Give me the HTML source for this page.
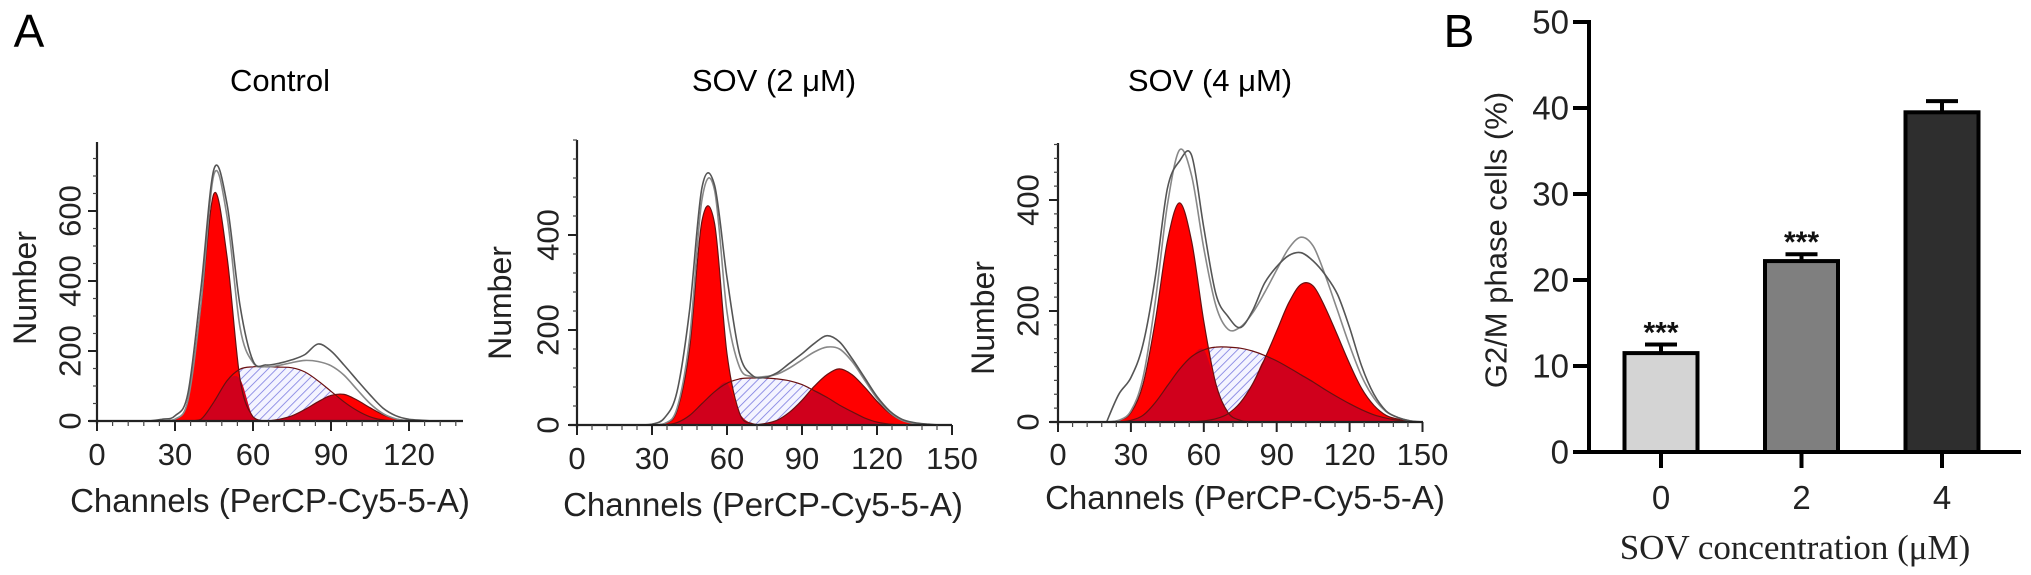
<!DOCTYPE html>
<html><head><meta charset="utf-8"><style>
html,body{margin:0;padding:0;background:#fff;}
svg{display:block;font-family:"Liberation Sans",sans-serif;}
</style></head><body>
<svg id="fig" width="2031" height="575" viewBox="0 0 2031 575">
<defs>
<pattern id="hatch" width="6" height="6" patternUnits="userSpaceOnUse" patternTransform="rotate(45)">
<rect width="6" height="6" fill="#f4f4ff"/>
<line x1="0" y1="0" x2="0" y2="6" stroke="#7a7ae0" stroke-width="1.6"/>
</pattern>
</defs>
<text x="29" y="47" font-size="46" text-anchor="middle">A</text>
<text x="1459" y="47" font-size="46" text-anchor="middle">B</text>
<text x="280" y="91" font-size="31" text-anchor="middle">Control</text>
<text x="774" y="91" font-size="31" text-anchor="middle">SOV (2 μM)</text>
<text x="1210" y="91" font-size="31" text-anchor="middle">SOV (4 μM)</text>
</svg>
<script>
// ---- Histogram data (channel grid, counts) ----
const p1Channels = [20,25,30,35,40,45,50,55,60,65,70,75,80,85,90,95,100,105,110,115,120,125,130,135,140];
const p1G1  = [0,0,5,60,330,650,470,120,12,0,0,0,0,0,0,0,0,0,0,0,0,0,0,0,0];
const p1S   = [0,0,0,0,5,55,115,148,155,155,154,152,140,115,85,55,30,12,3,0,0,0,0,0,0];
const p1G2  = [0,0,0,0,0,0,0,0,0,0,5,15,33,55,73,76,60,38,18,6,1,0,0,0,0];
const p1Raw = [0,5,15,80,380,720,620,330,172,160,165,175,190,220,200,160,117,75,37,15,5,2,0,0,0];
const p1YTicks = [0,200,400,600];
const p1XTicks = [0,30,60,90,120];

const p2Channels = [20,25,30,35,40,45,50,55,60,65,70,75,80,85,90,95,100,105,110,115,120,125,130,135,140,145];
const p2G1  = [0,0,0,3,30,160,430,425,150,25,3,0,0,0,0,0,0,0,0,0,0,0,0,0,0,0];
const p2S   = [0,0,0,0,5,20,45,70,88,97,99,99,97,93,85,72,58,42,28,15,6,2,0,0,0,0];
const p2G2  = [0,0,0,0,0,0,0,0,0,0,0,3,10,27,52,82,106,118,106,80,50,25,10,3,0,0];
const p2Raw = [0,0,2,15,70,240,500,505,310,150,105,100,110,130,150,172,188,175,140,100,60,30,12,5,2,0];
const p2YTicks = [0,200,400];
const p2XTicks = [0,30,60,90,120,150];

const p3Channels = [20,25,30,35,40,45,50,55,60,65,70,75,80,85,90,95,100,105,110,115,120,125,130,135,140,145,150];
const p3G1  = [0,3,17,68,181,325,395,325,181,68,17,3,0,0,0,0,0,0,0,0,0,0,0,0,0,0,0];
const p3S   = [0,0,3,12,35,65,95,118,130,135,135,133,128,120,110,98,85,72,58,45,33,22,13,7,3,1,0];
const p3G2  = [0,0,0,0,0,0,0,0,2,6,15,35,68,113,164,215,248,245,206,156,105,60,30,12,5,1,0];
const p3Raw = [0,50,80,140,260,420,470,480,350,230,190,170,200,250,280,300,305,290,265,230,170,100,50,20,8,2,0];
const p3YTicks = [0,200,400];
const p3XTicks = [0,30,60,90,120,150];

// ---- Bar chart data ----
const barCategories = ["0","2","4"];
const barValues = [11.5,22.2,39.5];
const barErrors = [1.0,0.8,1.3];
const barStars = ["***","***",""];
const barYTicks = [0,10,20,30,40,50];

const NS = "http://www.w3.org/2000/svg";
const svg = document.getElementById("fig");
function mk(tag, attrs, parent){
  const e = document.createElementNS(NS, tag);
  for (const k in attrs) e.setAttribute(k, attrs[k]);
  (parent||svg).appendChild(e);
  return e;
}

const panels = [
  {name:"control", ch:p1Channels, g1:p1G1, s:p1S, g2:p1G2, raw:p1Raw, yt:p1YTicks, xt:p1XTicks,
   x0:97, y0:421, sx:2.6, sy:0.35, yTop:142, xEnd:463, yMinor:50, ylabX:70, numX:25, numY:288, chX:270, chY:512, xlabY:465},
  {name:"sov2", ch:p2Channels, g1:p2G1, s:p2S, g2:p2G2, raw:p2Raw, yt:p2YTicks, xt:p2XTicks,
   x0:577, y0:425, sx:2.5, sy:0.475, yTop:140, xEnd:952, yMinor:40, ylabX:548, numX:500, numY:303, chX:763, chY:516, xlabY:469},
  {name:"sov4", ch:p3Channels, g1:p3G1, s:p3S, g2:p3G2, raw:p3Raw, yt:p3YTicks, xt:p3XTicks,
   x0:1058, y0:422, sx:2.43, sy:0.555, yTop:143, xEnd:1423, yMinor:25, ylabX:1028, numX:983, numY:318, chX:1245, chY:509, xlabY:465}
];

function smoothPath(pts, y0){
  let d = "M" + pts[0][0].toFixed(1) + "," + pts[0][1].toFixed(1);
  for (let i=0;i<pts.length-1;i++){
    const p0 = pts[Math.max(0,i-1)], p1 = pts[i], p2 = pts[i+1], p3 = pts[Math.min(pts.length-1,i+2)];
    const c1x = p1[0]+(p2[0]-p0[0])/6, c1y = Math.min(y0, p1[1]+(p2[1]-p0[1])/6);
    const c2x = p2[0]-(p3[0]-p1[0])/6, c2y = Math.min(y0, p2[1]-(p3[1]-p1[1])/6);
    d += " C"+c1x.toFixed(1)+","+c1y.toFixed(1)+" "+c2x.toFixed(1)+","+c2y.toFixed(1)+" "+p2[0].toFixed(1)+","+p2[1].toFixed(1);
  }
  return d;
}

panels.forEach(p => {
  const X = c => p.x0 + c*p.sx;
  const Y = v => p.y0 - v*p.sy;
  const g = mk("g", {});
  
  
  const pts = arr => p.ch.map((c,i)=>[X(c), Y(arr[i])]);
  const area = arr => smoothPath(pts(arr), p.y0) + " L"+X(p.ch[p.ch.length-1])+","+p.y0+" L"+X(p.ch[0])+","+p.y0+" Z";
  const overlap = p.s.map((v,i)=>Math.min(v, Math.max(p.g1[i], p.g2[i])));
  const fit = p.s.map((v,i)=>v + p.g1[i] + p.g2[i]);

  let e = mk("path", {d:area(p.s), fill:"url(#hatch)", stroke:"none"}, g);
  
  
  e = mk("path", {d:area(p.g1), fill:"#ff0000", stroke:"none"}, g);
  
  
  e = mk("path", {d:area(p.g2), fill:"#ff0000", stroke:"none"}, g);
  
  
  e = mk("path", {d:area(overlap), fill:"#d0001c", stroke:"none"}, g);
  
  
  [p.g1, p.g2, p.s].forEach(arr => {
    const l = mk("path", {d:smoothPath(pts(arr), p.y0), fill:"none", stroke:"#6a1010", "stroke-width":1.2}, g);
    
    
  });
  e = mk("path", {d:smoothPath(pts(fit), p.y0), fill:"none", stroke:"#888", "stroke-width":1.6}, g);
  
  
  e = mk("path", {d:smoothPath(pts(p.raw), p.y0), fill:"none", stroke:"#555", "stroke-width":1.6}, g);
  
  

  // axes
  e = mk("line", {x1:p.x0, y1:p.yTop, x2:p.x0, y2:p.y0+3, stroke:"#222", "stroke-width":2.2}, g);
  
  
  e = mk("line", {x1:p.x0-8, y1:p.y0, x2:p.xEnd, y2:p.y0, stroke:"#222", "stroke-width":2.2}, g);
  
  
  const yMax = (p.y0 - p.yTop)/p.sy;
  for (let v=0; v<=yMax; v+=p.yMinor){
    const t = mk("line", {x1:p.x0-4, y1:Y(v), x2:p.x0, y2:Y(v), stroke:"#444", "stroke-width":1.2}, g);
    
    
  }
  p.yt.forEach(v => {
    const t = mk("line", {x1:p.x0-9, y1:Y(v), x2:p.x0, y2:Y(v), stroke:"#222", "stroke-width":2}, g);
    
    
    const tx = mk("text", {x:p.ylabX, y:Y(v), "font-size":31, "text-anchor":"middle", "dominant-baseline":"central", transform:"rotate(-90 "+p.ylabX+" "+Y(v)+")", fill:"#222"}, g);
    tx.textContent = v;
    
    
  });
  const cMax = (p.xEnd - p.x0)/p.sx;
  for (let c=0; c<=cMax; c+=6){
    const t = mk("line", {x1:X(c), y1:p.y0, x2:X(c), y2:p.y0+5, stroke:"#444", "stroke-width":1.2}, g);
    
    
  }
  p.xt.forEach(c => {
    const t = mk("line", {x1:X(c), y1:p.y0, x2:X(c), y2:p.y0+10, stroke:"#222", "stroke-width":2}, g);
    
    
    const tx = mk("text", {x:X(c), y:p.xlabY, "font-size":31, "text-anchor":"middle", fill:"#222"}, g);
    tx.textContent = c;
    
    
  });
  e = mk("text", {x:p.numX, y:p.numY, "font-size":32, "text-anchor":"middle", "dominant-baseline":"central", transform:"rotate(-90 "+p.numX+" "+p.numY+")", fill:"#222"}, g);
  e.textContent = "Number";
  
  
  e = mk("text", {x:p.chX, y:p.chY, "font-size":33, "text-anchor":"middle", fill:"#222"}, g);
  e.textContent = "Channels (PerCP-Cy5-5-A)";
  
  
});

// ---- Bar chart ----
(function(){
  const axX = 1589, y0 = 452, pxPerUnit = 8.6, firstCx = 1661, step = 140.5, bw = 73;
  const colors = ["#d4d4d4","#7f7f7f","#2e2e2e"];
  const Y = v => y0 - v*pxPerUnit;
  const g = mk("g", {});
  
  
  barValues.forEach((v,i) => {
    const cx = firstCx + i*step;
    const top = Y(v + barErrors[i]);
    let e = mk("line", {x1:cx, y1:Y(v), x2:cx, y2:top, stroke:"#000", "stroke-width":4}, g);
    
    
    e = mk("line", {x1:cx-16, y1:top, x2:cx+16, y2:top, stroke:"#000", "stroke-width":4}, g);
    
    
    e = mk("rect", {x:cx-bw/2, y:Y(v), width:bw, height:y0-Y(v), fill:colors[i], stroke:"#000", "stroke-width":4}, g);
    
    
    if (barStars[i]){
      e = mk("text", {x:cx, y:top-2, "font-size":30, "font-weight":"bold", "text-anchor":"middle", fill:"#111"}, g);
      e.textContent = barStars[i];
      
      
    }
    e = mk("line", {x1:cx, y1:y0, x2:cx, y2:y0+16, stroke:"#000", "stroke-width":4}, g);
    
    
    e = mk("text", {x:cx, y:509, "font-size":33, "text-anchor":"middle", fill:"#222"}, g);
    e.textContent = barCategories[i];
    
    
  });
  let e = mk("line", {x1:axX, y1:Y(50)-2, x2:axX, y2:y0+2, stroke:"#000", "stroke-width":4}, g);
  
  
  e = mk("line", {x1:axX-16, y1:y0, x2:2021, y2:y0, stroke:"#000", "stroke-width":4}, g);
  
  
  barYTicks.forEach(v => {
    const t = mk("line", {x1:axX-16, y1:Y(v), x2:axX, y2:Y(v), stroke:"#000", "stroke-width":4}, g);
    
    
    const tx = mk("text", {x:axX-20, y:Y(v), "font-size":33, "text-anchor":"end", "dominant-baseline":"central", fill:"#222"}, g);
    tx.textContent = v;
    
    
  });
  e = mk("text", {x:1496, y:240, "font-size":31, "text-anchor":"middle", "dominant-baseline":"central", transform:"rotate(-90 1496 240)", fill:"#222"}, g);
  e.textContent = "G2/M phase cells (%)";
  
  
  e = mk("text", {x:1795, y:559, "font-size":35, "text-anchor":"middle", "font-family":"Liberation Serif, serif", fill:"#222"}, g);
  e.textContent = "SOV concentration (μM)";
  
  
})();
</script>
</body></html>
